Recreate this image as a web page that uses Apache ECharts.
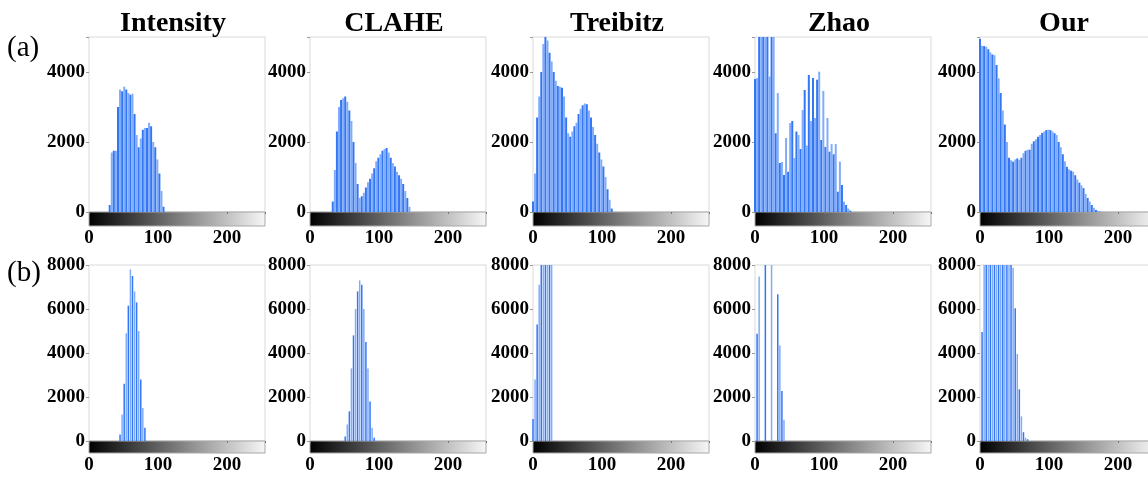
<!DOCTYPE html>
<html>
<head>
<meta charset="utf-8">
<script src="https://cdn.jsdelivr.net/npm/echarts@6/dist/echarts.min.js"></script>
<style>html,body{margin:0;background:#fff}#box{width:1148px;height:478px}</style>
</head>
<body>
<div id="box"></div>
<script>
var methods = ['Intensity', 'CLAHE', 'Treibitz', 'Zhao', 'Our'];
var rowTags = ['(a)', '(b)'];
var xTicks = [0, 100, 200];
var levelStep = 3; // histogram counts read every 3 gray levels

// row (a): first gray level of each histogram, then the counts
var startA = [30, 33, 0, 0, 0];
var intensityA = [200, 1700, 1750, 1750, 3000, 3500, 3450, 3580, 3500, 3400, 3350, 3380, 2800, 2200, 1850, 2100, 2350, 2400, 2400, 2550, 2450, 2000, 1850, 1500, 1100, 600, 150];
var claheA = [300, 1200, 2300, 3000, 3200, 3250, 3300, 3150, 2900, 2600, 2000, 1400, 800, 400, 450, 550, 700, 850, 950, 1100, 1250, 1450, 1550, 1650, 1750, 1800, 1830, 1700, 1550, 1400, 1300, 1150, 1050, 950, 800, 600, 400, 150];
var treibitzA = [300, 1100, 2700, 3300, 4000, 4800, 5200, 4900, 4550, 4300, 4000, 3750, 3600, 3580, 3550, 3300, 2700, 2250, 2150, 2300, 2450, 2550, 2800, 2950, 3050, 3100, 3080, 2900, 2700, 2430, 2200, 1950, 1700, 1500, 1300, 1000, 650, 350, 100];
var zhaoA = [3800, 3830, 5500, 5500, 5200, 5500, 5500, 3870, 5500, 5500, 2250, 3400, 1400, 1430, 1057, 2114, 1150, 2543, 2600, 1543, 2300, 2200, 1800, 2914, 3486, 1900, 3914, 2600, 3830, 2686, 3780, 4010, 2057, 3460, 1860, 2686, 1724, 1940, 1650, 1940, 580, 1440, 771, 295, 200, 100, 40];
var ourA = [4950, 4750, 4740, 4720, 4650, 4560, 4500, 4480, 4200, 3820, 3400, 2900, 2500, 2000, 1550, 1480, 1440, 1500, 1530, 1490, 1550, 1680, 1750, 1780, 1780, 1950, 2020, 2080, 2150, 2200, 2260, 2300, 2340, 2350, 2340, 2300, 2250, 2200, 2000, 1850, 1650, 1450, 1290, 1220, 1180, 1150, 1050, 930, 840, 760, 680, 520, 400, 300, 200, 120, 60, 30, 10];

// row (b)
var startB = [45, 51, 0, 3, 3];
var intensityB = [300, 1200, 2600, 4900, 6150, 7800, 7500, 6800, 6300, 5000, 2800, 1500, 600];
var claheB = [200, 750, 1350, 3300, 4800, 6000, 6800, 7300, 7100, 6000, 4500, 3300, 1800, 600, 150];
var treibitzB = [1000, 2800, 5300, 7100, 9000, 12000, 12000, 12000, 10000, 9000];
var zhaoB = [4870, 7480, 0, 0, 12000, 0, 0, 12000, 0, 0, 6670, 4340, 2270, 970];
var ourB = [4950, 9000, 10000, 10000, 10000, 10000, 10000, 10000, 10000, 10000, 10000, 10000, 10000, 10000, 10000, 7870, 6030, 3960, 2350, 1120, 400, 150, 80];

var histA = [intensityA, claheA, treibitzA, zhaoA, ourA];
var histB = [intensityB, claheB, treibitzB, zhaoB, ourB];

var chart = echarts.init(document.getElementById('box'));
var font = 'Liberation Serif';
var lefts = [89, 310, 533, 755, 980];
var plotW = 176;
var rows = [
  {top: 37, height: 175, barH: 14, yMax: 5000, starts: startA, hists: histA, barWidth: 2, tagY: 48},
  {top: 265, height: 176, barH: 12, yMax: 8000, starts: startB, hists: histB, barWidth: 1.5, tagY: 273}
];

var labelStyle = {fontFamily: font, fontWeight: 'bold', fontSize: 19, color: '#000'};
var grids = [], xAxes = [], yAxes = [], series = [], graphics = [];

rows.forEach(function (row, r) {
  graphics.push({type: 'text', x: 7, y: row.tagY,
    style: {text: rowTags[r], font: '29px "Liberation Serif"', fill: '#000', verticalAlign: 'middle'}});
  methods.forEach(function (m, i) {
    var g = grids.length;
    grids.push({left: lefts[i], top: row.top, width: plotW, height: row.height,
      show: true, borderColor: '#d9d9d9', borderWidth: 1, backgroundColor: '#fff',
      containLabel: false, outerBoundsMode: 'none'});
    grids.push({left: lefts[i], top: row.top + row.height, width: plotW, height: row.barH,
      show: true, borderColor: '#a8a8a8', borderWidth: 1, containLabel: false, outerBoundsMode: 'none',
      backgroundColor: {type: 'linear', x: 0, y: 0, x2: 1, y2: 0,
        colorStops: [{offset: 0, color: '#000'}, {offset: 1, color: '#f7f7f7'}]}});
    xAxes.push({gridIndex: g, type: 'value', min: 0, max: 255, interval: 100,
      axisLine: {show: false}, axisLabel: {show: false}, splitLine: {show: false},
      axisTick: {show: true, length: 2, lineStyle: {color: '#777'}}});
    xAxes.push({gridIndex: g + 1, type: 'value', min: 0, max: 255, interval: 100,
      axisLine: {show: false}, axisTick: {show: false}, splitLine: {show: false},
      axisLabel: Object.assign({margin: 3, formatter: function (v) {
        return xTicks.indexOf(v) >= 0 ? String(v) : '';
      }}, labelStyle)});
    yAxes.push({gridIndex: g, type: 'value', min: 0, max: row.yMax, interval: 2000,
      axisLine: {show: false}, splitLine: {show: false},
      axisTick: {show: true, length: 3, lineStyle: {color: '#999'}},
      axisLabel: Object.assign({margin: 4, formatter: function (v) {
        return v % 2000 === 0 ? String(v) : '';
      }}, labelStyle)});
    yAxes.push({gridIndex: g + 1, type: 'value', show: false});
    if (r === 0) {
      graphics.push({type: 'text', x: lefts[i] + plotW / 2 - 4, y: 24,
        style: {text: m, font: 'bold 28px "Liberation Serif"', fill: '#000', align: 'center', verticalAlign: 'middle'}});
    }
    var start = row.starts[i];
    series.push({type: 'bar', xAxisIndex: g, yAxisIndex: g, barWidth: row.barWidth,
      clip: true, silent: true,
      data: row.hists[i].map(function (v, k) { return [start + k * levelStep, v]; }),
      itemStyle: {color: function (p) { return p.dataIndex % 2 ? '#80acf9' : '#3477f5'; }}});
  });
});

chart.setOption({
  animation: false,
  grid: grids,
  xAxis: xAxes,
  yAxis: yAxes,
  series: series,
  graphic: graphics
});
</script>
</body>
</html>
